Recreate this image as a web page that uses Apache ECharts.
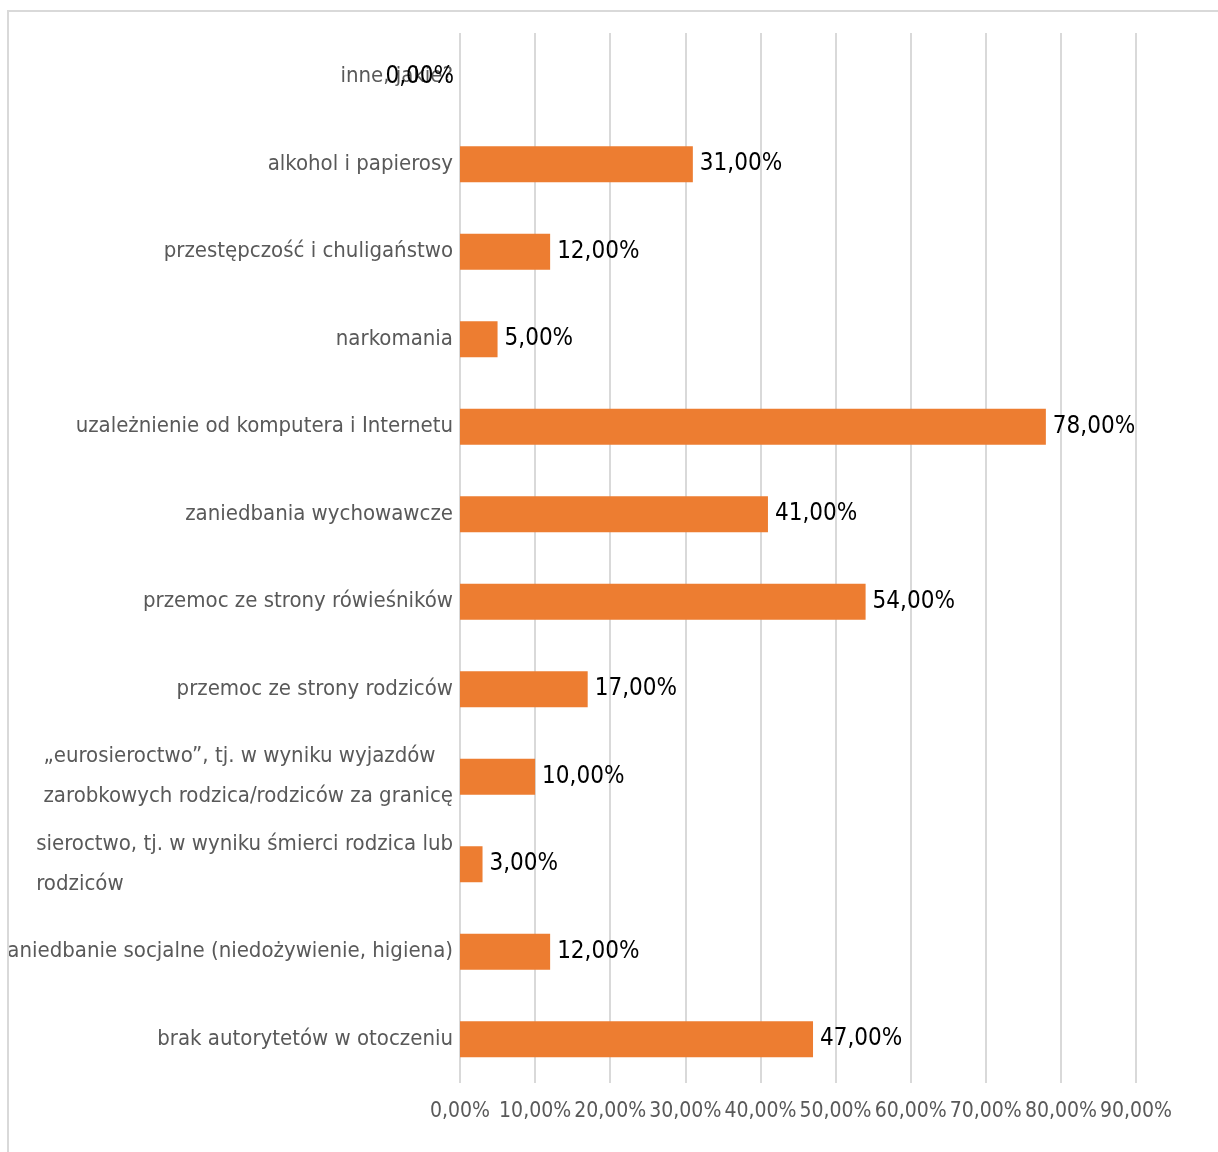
<!DOCTYPE html>
<html><head><meta charset="utf-8">
<script src="https://cdn.jsdelivr.net/npm/echarts@6/dist/echarts.min.js"></script>
<style>html,body{margin:0;padding:0;background:#fff}#c{width:1218px;height:1152px}</style>
</head><body><div id="c"></div>
<script>
const categories = [
  "brak autorytetów w otoczeniu",
  "zaniedbanie socjalne (niedożywienie, higiena)",
  "sieroctwo, tj. w wyniku śmierci rodzica lub\nrodziców",
  "„eurosieroctwo”, tj. w wyniku wyjazdów\nzarobkowych rodzica/rodziców za granicę",
  "przemoc ze strony rodziców",
  "przemoc ze strony rówieśników",
  "zaniedbania wychowawcze",
  "uzależnienie od komputera i Internetu",
  "narkomania",
  "przestępczość i chuligaństwo",
  "alkohol i papierosy",
  "inne, jakie?"
];
const values = [47, 12, 3, 10, 17, 54, 41, 78, 5, 12, 31, 0];
const tickMin = 0, tickMax = 90, tickStep = 10;

const FONT = "'Liberation Sans Narrow','DejaVu Sans Condensed',sans-serif";
const pct = v => v.toFixed(2).replace('.', ',') + '%';

const catFormatter = s => s.indexOf('\n') >= 0
  ? s.split('\n').map(l => '{l|' + l + '}').join('\n')
  : s;

const seriesData = values.map(v => v === 0
  ? {value: v, label: {position: 'left', distance: 6}}
  : v);

const chart = echarts.init(document.getElementById('c'), null, {renderer: 'canvas'});
chart.setOption({
  animation: false,
  backgroundColor: '#fff',
  grid: {left: 460, right: 82, top: 33, bottom: 69, containLabel: false, outerBoundsMode: 'none'},
  xAxis: {
    type: 'value', min: tickMin, max: tickMax, interval: tickStep,
    axisLine: {show: false}, axisTick: {show: false},
    splitLine: {show: true, lineStyle: {color: '#d9d9d9', width: 2}},
    axisLabel: {formatter: v => pct(v), color: '#595959', fontSize: 21, fontFamily: FONT, margin: 18,
      showMinLabel: true, showMaxLabel: true, hideOverlap: false}
  },
  yAxis: {
    type: 'category', data: categories,
    axisLine: {show: false}, axisTick: {show: false},
    axisLabel: {color: '#595959', fontSize: 22, fontFamily: FONT, margin: 7, lineHeight: 40,
      interval: 0, formatter: catFormatter,
      rich: {l: {align: 'left', color: '#595959', fontSize: 22, fontFamily: FONT, lineHeight: 40}}}
  },
  series: [{
    type: 'bar', data: seriesData, barWidth: 36,
    itemStyle: {color: '#ED7D31'},
    label: {show: true, position: 'right', distance: 7, formatter: p => pct(p.value),
      color: '#000', fontSize: 24, fontFamily: FONT}
  }],
  graphic: [
    {type: 'rect', shape: {x: 0, y: 0, width: 8, height: 1152}, style: {fill: '#fff'}, z: 99, silent: true},
    {type: 'rect', shape: {x: 8, y: 11, width: 1300, height: 1300}, style: {fill: 'none', stroke: '#d9d9d9', lineWidth: 2}, z: 100, silent: true}
  ]
});
</script></body></html>
